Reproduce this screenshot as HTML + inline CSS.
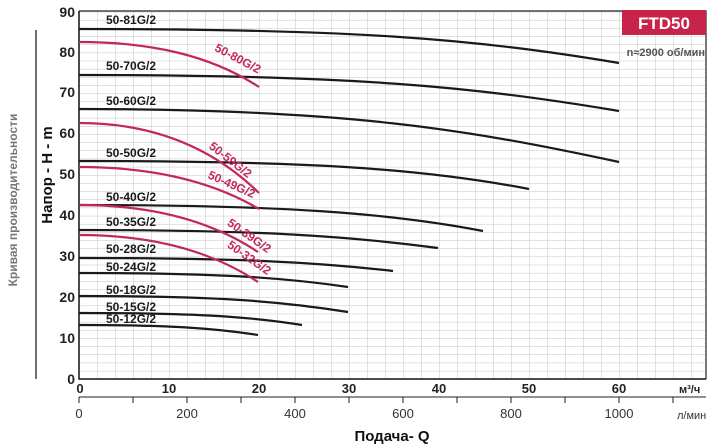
<!DOCTYPE html>
<html><head><meta charset="utf-8"><style>
html,body{margin:0;padding:0;background:#fff;}
svg{display:block;font-family:"Liberation Sans",sans-serif;}
</style></head><body>
<svg width="714" height="447" viewBox="0 0 714 447" xmlns="http://www.w3.org/2000/svg">
<defs>
<pattern id="g" x="79" y="379" width="18" height="8.16" patternUnits="userSpaceOnUse">
<path d="M0 0V8.16M0 0H18" stroke="#c4c4c4" stroke-width="1" fill="none"/>
</pattern>
</defs>
<rect x="79" y="11" width="627" height="368" fill="url(#g)"/>
<path d="M79 11H706V379" fill="none" stroke="#222" stroke-width="1.2"/>
<path d="M79 11V379H706" fill="none" stroke="#111" stroke-width="1.5"/>
<line x1="36" y1="30" x2="36" y2="379" stroke="#111" stroke-width="1.2"/>
<text transform="translate(17,200) rotate(-90)" text-anchor="middle" font-size="12" font-weight="bold" fill="#777">Кривая производительности</text>
<text transform="translate(52,175) rotate(-90)" text-anchor="middle" font-size="15" font-weight="bold" fill="#111">Напор - H - m</text>
<g font-size="14" font-weight="bold" fill="#222" text-anchor="end">
<text x="75" y="384">0</text><text x="75" y="343">10</text><text x="75" y="302">20</text><text x="75" y="261">30</text><text x="75" y="220">40</text><text x="75" y="179">50</text><text x="75" y="138">60</text><text x="75" y="97">70</text><text x="75" y="57">80</text><text x="75" y="17">90</text>
</g>
<g font-size="13" font-weight="bold" fill="#222" text-anchor="middle">
<text x="80" y="393">0</text><text x="169" y="393">10</text><text x="259" y="393">20</text><text x="349" y="393">30</text><text x="439" y="393">40</text><text x="529" y="393">50</text><text x="619" y="393">60</text>
</g>
<text x="679" y="393" font-size="11" font-weight="bold" fill="#222">м³/ч</text>
<path d="M79 397H706M79 397v6M133 397v6M187 397v6M241 397v6M295 397v6M349 397v6M403 397v6M457 397v6M511 397v6M565 397v6M619 397v6M673 397v6" stroke="#222" stroke-width="1"/>
<g font-size="13" fill="#333" text-anchor="middle">
<text x="79" y="418">0</text><text x="187" y="418">200</text><text x="295" y="418">400</text><text x="403" y="418">600</text><text x="511" y="418">800</text><text x="619" y="418">1000</text>
</g>
<text x="677" y="419" font-size="11" fill="#333">л/мин</text>
<text x="392" y="441" text-anchor="middle" font-size="15" font-weight="bold" fill="#111">Подача- Q</text>
<rect x="622" y="10" width="84" height="25" fill="#c8234a"/>
<text x="664" y="29" text-anchor="middle" font-size="17" font-weight="bold" fill="#fff">FTD50</text>
<text x="705" y="56" text-anchor="end" font-size="11" font-weight="bold" fill="#555">n≈2900 об/мин</text>
<g fill="none" stroke="#1a1a1a" stroke-width="2.2">
<path d="M79 29C349 29 470 38 619 63"/>
<path d="M79 75C349 75 470 86 619 111"/>
<path d="M79 109C349 109 470 130 619 162"/>
<path d="M79 161C304 161 420 168 529 189"/>
<path d="M79 205C281 205 390 213 483 231"/>
<path d="M79 230C258 230 348 236 438 248"/>
<path d="M79 258C236 258 315 262 393 271"/>
<path d="M79 273C213 273 280 277 348 287"/>
<path d="M79 296C213 296 280 301 348 312"/>
<path d="M79 313C190 313 246 316 302 325"/>
<path d="M79 325C168 325 213 328 258 335"/>
</g>
<g fill="none" stroke="#c2285a" stroke-width="2.2">
<path d="M79 42C150 42 210 55 259 87"/>
<path d="M79 123C150 123 210 145 259 193"/>
<path d="M79 167C150 167 210 180 259 209"/>
<path d="M79 205C150 205 210 220 258 252"/>
<path d="M79 235C150 235 210 250 258 282"/>
</g>
<g font-size="12" font-weight="bold" fill="#1a1a1a">
<text x="106" y="24">50-81G/2</text>
<text x="106" y="70">50-70G/2</text>
<text x="106" y="105">50-60G/2</text>
<text x="106" y="157">50-50G/2</text>
<text x="106" y="201">50-40G/2</text>
<text x="106" y="226">50-35G/2</text>
<text x="106" y="253">50-28G/2</text>
<text x="106" y="271">50-24G/2</text>
<text x="106" y="294">50-18G/2</text>
<text x="106" y="311">50-15G/2</text>
<text x="106" y="323">50-12G/2</text>
</g>
<g font-size="12" font-weight="bold" fill="#c2285a" text-anchor="middle">
<text transform="translate(236,62) rotate(28)">50-80G/2</text>
<text transform="translate(228,163) rotate(38)">50-59G/2</text>
<text transform="translate(230,188) rotate(24)">50-49G/2</text>
<text transform="translate(247,239) rotate(35)">50-39G/2</text>
<text transform="translate(247,261) rotate(35)">50-32G/2</text>
</g>
</svg>
</body></html>
